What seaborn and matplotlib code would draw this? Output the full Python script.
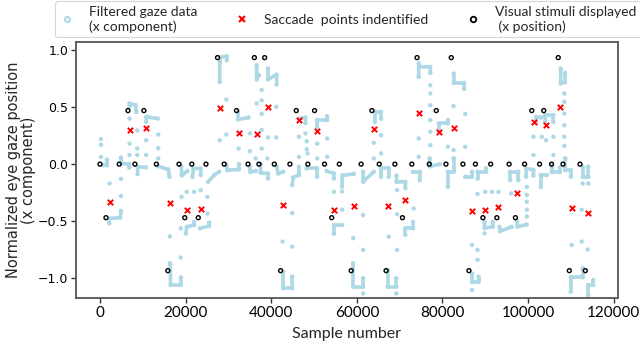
import numpy as np
import pandas as pd
import matplotlib
matplotlib.use("Agg")
import matplotlib.pyplot as plt
import seaborn as sns
from matplotlib.lines import Line2D

# ---------------- data ----------------
# visual stimuli displayed (x position)
stim_x = [0, 1400, 4500, 6530, 8160, 10260, 13170, 15850, 18460, 19810,
          21450, 22960, 24760, 27460, 29020, 31890, 34570, 36060, 37130, 38460,
          40720, 42190, 44360, 45850, 48550, 50120, 52450, 54130, 55900, 58670,
          61000, 63520, 65220, 66830, 68880, 70650, 72840, 74060, 76920, 78550,
          80820, 82050, 84780, 86180, 87690, 89440, 91260, 92700, 95570, 97040,
          99180, 100860, 102680, 103660, 105480, 107040, 108160, 109630, 112120, 113360]
stim_y = [0, -0.47, 0, 0.47, 0, 0.47, 0, -0.935, 0, -0.47,
          0, -0.47, 0, 0.935, 0, 0.47, 0, 0.935, 0, 0.935,
          0, -0.935, 0, 0.47, 0, 0.47, 0, -0.47, 0, -0.935,
          0, 0.47, 0, -0.935, 0, -0.47, 0, 0.935, 0, 0.47,
          0, 0.935, 0, -0.935, 0, -0.47, 0, -0.47, 0, -0.47,
          0, 0.47, 0, 0.47, 0, 0.935, 0, -0.935, 0, -0.935]

# saccade points identified
sac_x = [2330, 6990, 10840, 16320, 20350, 23500, 27930, 32400, 36600, 39160,
         42660, 46460, 50750, 54710, 59280, 64030, 67320, 71140, 74480, 79180,
         82590, 86880, 89980, 93080, 97510, 101330, 104150, 107530, 110140, 113920]
sac_y = [-0.33, 0.296, 0.32, -0.342, -0.40, -0.39, 0.49, 0.275, 0.265, 0.50,
         -0.362, 0.39, 0.29, -0.406, -0.371, 0.307, -0.366, -0.316, 0.447, 0.278,
         0.316, -0.415, -0.40, -0.38, -0.257, 0.366, 0.34, 0.503, -0.383, -0.43]

# filtered gaze data: fixation runs (id, x, y)
fix_id = [1, 1, 1,
          2, 2, 2, 2,
          3, 3, 3, 3,
          4, 4, 4, 4,
          5, 5, 5,
          6, 6, 6,
          7, 7, 7,
          8, 8, 8, 8,
          9, 9, 9,
          10, 10, 10, 10,
          11, 11, 11, 11,
          12, 12, 12,
          13, 13, 13,
          14, 14, 14, 14, 14,
          15, 15, 15, 15,
          16, 16, 16,
          17, 17, 17,
          18, 18, 18,
          19, 19, 19, 19,
          20, 20, 20, 20,
          21, 21, 21,
          22, 22, 22, 22,
          23, 23, 23, 23,
          24, 24, 24,
          25, 25, 25,
          26, 26, 26, 26,
          27, 27, 27,
          28, 28, 28,
          29, 29, 29,
          30, 30, 30, 30,
          31, 31, 31,
          32, 32, 32, 32,
          33, 33, 33, 33,
          34, 34, 34, 34,
          35, 35, 35, 35,
          36, 36, 36, 36,
          37, 37, 37,
          38, 38, 38, 38, 38,
          39, 39, 39,
          40, 40, 40, 40,
          41, 41, 41, 41,
          42, 42, 42, 42,
          43, 43, 43,
          44, 44, 44, 44,
          45, 45, 45, 45,
          46, 46, 46, 46,
          47, 47, 47,
          48, 48, 48, 48,
          49, 49, 49,
          50, 50, 50, 50,
          51, 51, 51,
          52, 52, 52,
          53, 53, 53, 53,
          54, 54, 54, 54,
          55, 55, 55, 55,
          56, 56, 56, 56,
          57, 57, 57, 57,
          58, 58, 58, 58,
          59, 59, 59, 59]
fix_x = [620, 1630, 1630,
         2180, 2180, 4740, 4900,
         4900, 5050, 6840, 6840,
         6910, 6910, 8310, 8470,
         8780, 8780, 10720,
         10800, 10800, 13500,
         13600, 15930, 16240,
         16400, 16500, 18900, 18900,
         19000, 19100, 20440,
         20050, 20280, 21990, 21990,
         21600, 21830, 23540, 23540,
         23390, 25490, 25490,
         25250, 26650, 27820,
         27970, 27970, 28210, 29600, 29600,
         29530, 29760, 32480, 32480,
         32250, 32250, 34700,
         35000, 35100, 36400,
         36600, 36600, 37140,
         37530, 37530, 39240, 39240,
         39240, 39240, 41260, 41260,
         41300, 41600, 42800,
         42810, 42810, 44910, 44910,
         44910, 45150, 46470, 46470,
         46500, 48000, 48000,
         48250, 50740, 50740,
         50740, 50740, 53070, 53070,
         52920, 54630, 54630,
         54630, 54630, 56570,
         56500, 56600, 59300,
         59130, 59130, 61460, 61460,
         61460, 61460, 63950,
         64180, 64180, 65660, 65660,
         65660, 65660, 67450, 67450,
         67210, 67210, 69240, 69240,
         69240, 69300, 71330, 71330,
         71330, 71330, 73120, 73120,
         73120, 74670, 74670,
         74440, 74440, 74600, 77160, 77160,
         77000, 77000, 79330,
         79100, 79100, 81270, 81270,
         81270, 81270, 82590, 82590,
         82590, 82590, 85080, 85080,
         85310, 86900, 86900,
         86870, 86870, 88420, 88420,
         88190, 88190, 90210, 90210,
         89830, 89830, 91770, 91770,
         93320, 93400, 96200,
         95810, 95810, 97750, 97750,
         97400, 97500, 99690,
         99540, 99540, 101250, 101250,
         101870, 101870, 103000,
         102960, 102960, 104360,
         103970, 103970, 105910, 105910,
         105520, 105520, 107460, 107460,
         107620, 107620, 108630, 108630,
         108700, 108700, 109950, 109950,
         109950, 109950, 112750, 112750,
         112750, 112750, 114070, 114070,
         114070, 114070, 115230, 115230]
fix_y = [-0.01, -0.01, 0.04,
         -0.52, -0.477, -0.47, -0.41,
         0.058, 0.006, 0.0, -0.03,
         0.503, 0.532, 0.518, 0.459,
         -0.088, -0.023, -0.029,
         0.371, 0.415, 0.40,
         -0.018, -0.047, -0.11,
         -0.877, -1.061, -1.061, -0.994,
         -0.02, -0.10, -0.06,
         -0.61, -0.55, -0.535, -0.506,
         -0.111, -0.038, -0.038, -0.096,
         -0.564, -0.544, -0.515,
         -0.155, -0.096, -0.067,
         0.722, 0.898, 0.94, 0.947, 0.912,
         -0.009, -0.053, -0.047, 0.0,
         0.459, 0.392, 0.409,
         -0.02, -0.07, -0.06,
         0.868, 0.743, 0.78,
         0.0, -0.076, -0.082, -0.126,
         0.839, 0.743, 0.787, 0.70,
         -0.023, -0.082, -0.067,
         -0.944, -1.09, -1.09, -0.988,
         -0.184, -0.117, -0.096, -0.023,
         0.40, 0.41, 0.36,
         -0.038, -0.038, -0.111,
         0.313, 0.386, 0.386, 0.42,
         -0.06, -0.082, -0.126,
         -0.61, -0.535, -0.535,
         -0.2, -0.1, -0.085,
         -0.871, -1.076, -1.076, -1.003,
         -0.067, -0.155, -0.067,
         0.371, 0.459, 0.459, 0.40,
         -0.111, -0.038, -0.038, -0.111,
         -0.93, -1.076, -1.076, -1.003,
         -0.10, -0.155, -0.155, -0.21,
         -0.62, -0.564, -0.564, -0.506,
         -0.067, -0.067, -0.14,
         0.766, 0.883, 0.854, 0.854, 0.80,
         0.05, -0.02, 0.0,
         0.298, 0.357, 0.357, 0.386,
         -0.2, -0.067, -0.067, 0.05,
         0.795, 0.713, 0.713, 0.66,
         -0.111, -0.111, -0.067,
         -0.96, -1.032, -1.032, -0.988,
         -0.126, -0.067, -0.067, -0.038,
         -0.506, -0.56, -0.55, -0.506,
         -0.55, -0.59, -0.55,
         -0.14, -0.067, -0.067, -0.14,
         -0.50, -0.55, -0.53,
         -0.11, -0.038, -0.05, -0.10,
         0.371, 0.415, 0.409,
         -0.2, -0.096, -0.096,
         0.371, 0.43, 0.43, 0.37,
         -0.01, -0.07, -0.07, -0.03,
         0.839, 0.708, 0.72, 0.80,
         0.05, -0.053, -0.053, -0.11,
         -1.12, -0.994, -0.994, -0.915,
         -0.023, -0.111, -0.111, -0.023,
         -1.149, -1.061, -1.061, -1.017]

# filtered gaze data: samples during saccades / transitions
samp_x = [230, 230, 230, 2250, 4900, 4900, 6910, 6910, 6910, 8700, 8700, 8700,
          10800, 10800, 13600, 13600, 13600, 16320, 18880, 16320, 19040, 20280,
          21990, 18880, 23540, 25100, 25100, 27970, 29530, 29530, 32400, 35040,
          35040, 37760, 37760, 37760, 36370, 36600, 37760, 37760, 39090, 39240,
          41180, 41180, 42660, 44910, 44910, 46470, 46470, 48000, 48300, 48300,
          48500, 50740, 50740, 53070, 53070, 54630, 56570, 56570, 59130, 61460,
          61460, 61460, 63950, 63950, 65660, 65660, 67450, 69390, 69390, 69240,
          69390, 73270, 74440, 74440, 77160, 77160, 77160, 77160, 77160, 77160,
          81270, 82590, 82590, 85310, 85310, 86870, 88190, 88190, 86870, 88190,
          89980, 91530, 93090, 89830, 96040, 99700, 99700, 99700, 99700, 99700,
          101250, 101250, 103200, 104200, 105910, 105910, 108470, 108470, 108470,
          108470, 108470, 108470, 110180, 112510, 112510, 113910, 112750, 114070]
samp_y = [0.22, 0.17, 0.064, -0.17, -0.28, -0.13, 0.08, 0.18, 0.40, 0.295, 0.137, 0.08,
          0.08, 0.21, 0.26, 0.14, 0.05, -0.635, -0.82, -0.87, -0.287, -0.243,
          -0.243, -0.564, -0.228, -0.287, -0.433, 0.21, 0.567, 0.26, 0.137, 0.27,
          0.114, 0.44, 0.30, 0.137, 0.05, 0.532, 0.65, 0.56, 0.05, 0.234,
          0.234, 0.503, -0.68, -0.725, -0.43, 0.064, 0.24, 0.27, 0.20, 0.13,
          0.094, 0.05, 0.18, 0.225, 0.064, -0.243, -0.40, -0.24, -0.65, -0.754,
          -0.447, -1.135, 0.05, 0.187, 0.254, 0.094, -0.637, -0.754, -0.44, -1.135,
          -0.228, -0.39, 0.064, 0.225, 0.693, 0.62, 0.517, 0.386, 0.284, 0.167,
          0.152, 0.509, 0.123, 0.44, 0.152, -0.71, -0.754, -0.84, -1.105, -0.263,
          -0.243, -0.243, -0.243, -0.608, -0.257, -0.46, -0.40, -0.33, -0.27, -0.20,
          0.24, 0.08, 0.24, 0.21, 0.24, 0.08, 0.62, 0.547, 0.444,
          0.342, 0.24, 0.16, -0.71, -0.40, -0.68, -0.75, -0.17, -0.17]

x_ticks = [0, 20000, 40000, 60000, 80000, 100000, 120000]
y_ticks = [-1.0, -0.5, 0.0, 0.5, 1.0]

# ---------------- plot ----------------
sns.set_theme(style="white")
plt.rcParams["font.family"] = ["DejaVu Sans"]

GAZE = "#ADD8E6"
fig = plt.figure(figsize=(6.4, 3.46), dpi=100)
ax = fig.add_axes([76 / 640, 1 - 298 / 346, (618 - 76) / 640, (298 - 42) / 346])

runs = pd.DataFrame({"fix": fix_id, "x": fix_x, "y": fix_y})
sns.lineplot(data=runs, x="x", y="y", units="fix", estimator=None, sort=False,
             color=GAZE, lw=2.6, ax=ax, legend=False,
             solid_capstyle="round", solid_joinstyle="round")
gaze = pd.DataFrame({"x": list(fix_x) + list(samp_x), "y": list(fix_y) + list(samp_y)})
sns.scatterplot(data=gaze, x="x", y="y", color=GAZE, s=10, edgecolor="none", ax=ax)
sns.scatterplot(x=sac_x, y=sac_y, marker="x", color="red", s=15, linewidth=1.4, ax=ax, zorder=4)
sns.scatterplot(x=stim_x, y=stim_y, marker="o", color="black", s=8, linewidth=1.0, ax=ax, zorder=5)
ax.collections[-1].set_facecolor("none")
ax.collections[-1].set_edgecolor("black")

ax.set_xlim(-5600, 121000)
ax.set_ylim(-1.175, 1.072)
ax.set_xticks(x_ticks)
ax.set_xticklabels([str(v) for v in x_ticks], family="Lato", fontsize=11)
ax.set_yticks(y_ticks)
ax.set_yticklabels([f"{v:.1f}".replace("-", "\u2212") for v in y_ticks], fontsize=9)
ax.tick_params(direction="out", length=3.5, width=1, left=True, bottom=True, colors="#333333",
               labelcolor="black", pad=2)
for s in ax.spines.values():
    s.set_color("#555555")
    s.set_linewidth(1.3)
ax.set_xlabel("Sample number", family="Lato", fontsize=11.5, labelpad=5)
ax.set_ylabel("Normalized eye gaze position\n(x component)", fontsize=10.5, labelpad=1, linespacing=1.0)

handles = [
    Line2D([], [], ls="none", marker="o", ms=4, mfc="#DDEFF5", mec=GAZE, mew=1.2),
    Line2D([], [], ls="none", marker="x", ms=4.5, color="red", mew=1.5),
    Line2D([], [], ls="none", marker="o", ms=4, mfc="white", mec="black", mew=1.3),
]
labels = ["Filtered gaze data\n(x component)", "Saccade  points indentified",
          "Visual stimuli displayed\n (x position)"]
leg = fig.legend(handles, labels, loc="upper left", bbox_to_anchor=(55 / 640, 0.997),
                 ncol=3, prop={"family": "Lato", "size": 10}, frameon=True, fancybox=True,
                 columnspacing=2.7, handletextpad=1.1, borderpad=0.35, handlelength=1.0,
                 borderaxespad=0.0)
leg.get_frame().set_edgecolor("#CCCCCC")
leg.get_frame().set_linewidth(0.8)

fig.savefig("out.png", dpi=100)
